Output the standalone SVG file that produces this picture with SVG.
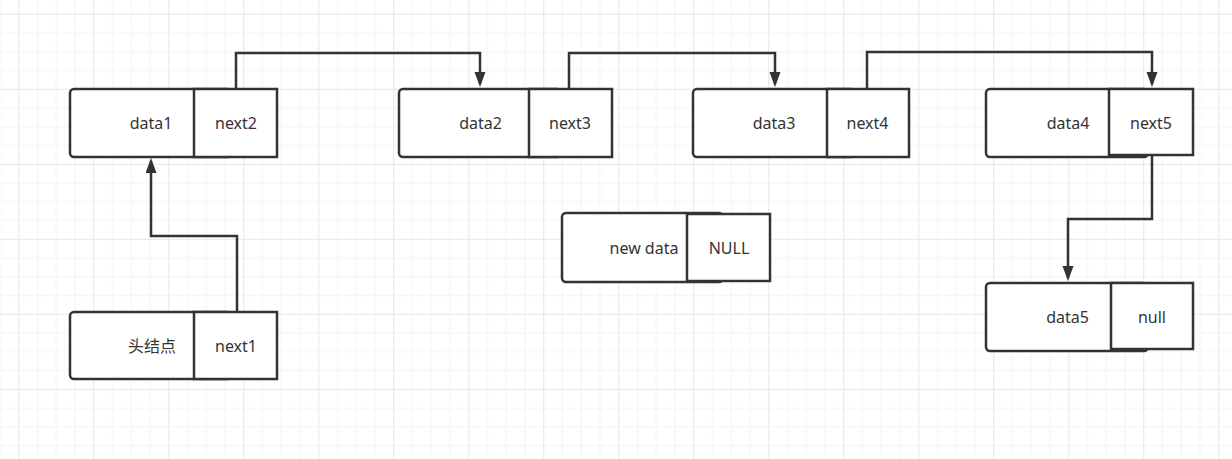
<svg xmlns="http://www.w3.org/2000/svg" width="1232" height="459" viewBox="0 0 1232 459">
  <style>
    .box { fill: #ffffff; stroke: #333333; stroke-width: 2.5; }
    .lbl { font-family: "Noto Sans", "Noto Sans CJK SC", sans-serif; font-size: 16px; fill: #333333; text-anchor: middle; }
    .edge { fill: none; stroke: #333333; stroke-width: 2.5; marker-end: url(#arrow); }
  </style>
  <defs>
    <pattern id="grid" patternUnits="userSpaceOnUse" x="18.25" y="13.8" width="75" height="75">
      <rect x="18.75" y="0" width="1" height="75" fill="#f3f3f3"/>
      <rect x="37.5" y="0" width="1" height="75" fill="#f3f3f3"/>
      <rect x="56.25" y="0" width="1" height="75" fill="#f3f3f3"/>
      <rect x="0" y="18.75" width="75" height="1" fill="#f3f3f3"/>
      <rect x="0" y="37.5" width="75" height="1" fill="#f3f3f3"/>
      <rect x="0" y="56.25" width="75" height="1" fill="#f3f3f3"/>
      <rect x="0" y="0" width="1" height="75" fill="#e6e6e6"/>
      <rect x="0" y="0" width="75" height="1" fill="#e6e6e6"/>
    </pattern>
    <marker id="arrow" markerUnits="userSpaceOnUse" markerWidth="16" markerHeight="12" refX="12" refY="5.5" orient="auto">
      <path d="M0,0 L15,5.5 L0,11 Z" fill="#333333"/>
    </marker>
  </defs>
  <rect x="0" y="0" width="1232" height="459" fill="#ffffff"/>
  <rect x="0" y="0" width="1232" height="459" fill="url(#grid)"/>

  <g id="connectors">
    <path class="edge" d="M236,89 V53 H480 V84"/>
    <path class="edge" d="M569,89 V53 H775 V84"/>
    <path class="edge" d="M867,89 V52 H1152 V84"/>
    <path class="edge" d="M1152,155 V219 H1068 V278"/>
    <path class="edge" d="M237,312 V236 H151 V161"/>
  </g>

  <g id="node-head">
    <rect class="box" x="70" y="312" width="162" height="67" rx="4"/>
    <rect class="box" x="194" y="312" width="83" height="67"/>
    <text class="lbl" x="152" y="351.5">头结点</text>
    <text class="lbl" x="236" y="351.5">next1</text>
  </g>

  <g id="node-1">
    <rect class="box" x="70" y="89" width="162" height="68" rx="4"/>
    <rect class="box" x="194" y="89" width="83" height="68"/>
    <text class="lbl" x="151" y="129">data1</text>
    <text class="lbl" x="236" y="129">next2</text>
  </g>

  <g id="node-2">
    <rect class="box" x="399" y="89" width="162" height="68" rx="4"/>
    <rect class="box" x="529" y="89" width="83" height="68"/>
    <text class="lbl" x="480.5" y="129">data2</text>
    <text class="lbl" x="570" y="129">next3</text>
  </g>

  <g id="node-3">
    <rect class="box" x="693" y="89" width="162" height="68" rx="4"/>
    <rect class="box" x="827" y="89" width="82" height="68"/>
    <text class="lbl" x="774" y="129">data3</text>
    <text class="lbl" x="867.5" y="129">next4</text>
  </g>

  <g id="node-4">
    <rect class="box" x="986" y="89" width="162" height="68" rx="4"/>
    <rect class="box" x="1109" y="89" width="84" height="66"/>
    <text class="lbl" x="1068" y="129">data4</text>
    <text class="lbl" x="1151" y="129">next5</text>
  </g>

  <g id="node-5">
    <rect class="box" x="986" y="283" width="162" height="68" rx="4"/>
    <rect class="box" x="1111" y="283" width="82" height="66"/>
    <text class="lbl" x="1067.5" y="323">data5</text>
    <text class="lbl" x="1152" y="323">null</text>
  </g>

  <g id="node-new">
    <rect class="box" x="562" y="213" width="161" height="69" rx="4"/>
    <rect class="box" x="687" y="214" width="83" height="67"/>
    <text class="lbl" x="644" y="254">new data</text>
    <text class="lbl" x="729" y="254">NULL</text>
  </g>
</svg>
